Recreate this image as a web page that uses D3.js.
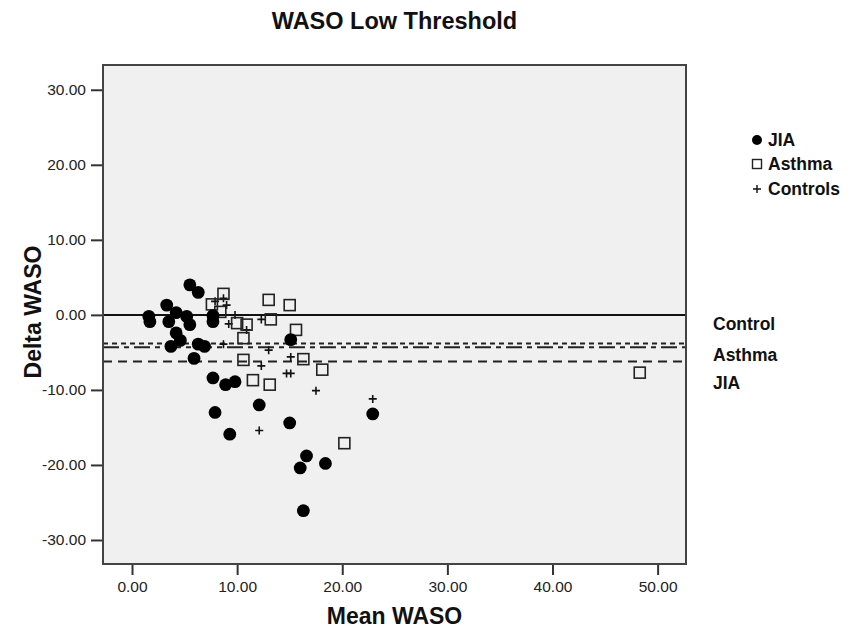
<!DOCTYPE html>
<html>
<head>
<meta charset="utf-8">
<script src="https://cdn.jsdelivr.net/npm/d3@7"></script>
<style>
  body { margin: 0; background: #fff; }
  svg { display: block; font-family: Arial, "Liberation Sans", sans-serif; }
</style>
</head>
<body>
<div id="chart"></div>
<script>
// data: [mean WASO, delta WASO]
const jia = [
  [5.5, 4.0], [6.3, 3.0], [3.3, 1.3], [1.6, -0.2], [1.7, -0.9], [4.2, 0.3],
  [3.5, -0.9], [5.2, -0.2], [5.5, -1.3], [7.7, -0.1], [7.7, -0.9], [4.2, -2.4],
  [4.6, -3.4], [3.7, -4.2], [6.3, -3.9], [6.9, -4.2], [5.9, -5.8], [15.1, -3.3],
  [7.7, -8.4], [8.9, -9.3], [9.8, -8.9], [12.1, -12.0], [7.9, -13.0], [9.3, -15.9],
  [15.0, -14.4], [22.9, -13.2], [16.6, -18.8], [16.0, -20.4], [18.4, -19.8], [16.3, -26.1]
];
const asthma = [
  [8.7, 2.8], [7.6, 1.4], [8.4, 0.4], [13.0, 2.0], [15.0, 1.3], [13.2, -0.6],
  [10.0, -1.1], [10.9, -1.3], [10.6, -3.1], [15.6, -2.0], [10.6, -6.0], [16.3, -5.9],
  [18.1, -7.3], [11.5, -8.7], [13.1, -9.3], [20.2, -17.1], [48.3, -7.7]
];
const controls = [
  [7.9, 1.8], [8.7, 2.2], [9.0, 1.3], [9.8, 0.0], [9.2, -1.2], [10.9, -2.0],
  [12.3, -0.6], [8.7, -3.9], [13.0, -4.7], [15.1, -5.6], [12.3, -6.8], [14.7, -7.8],
  [15.1, -7.8], [17.5, -10.1], [22.9, -11.2], [12.1, -15.4]
];
// mean difference lines per group
const refNames = ["Control", "Asthma", "JIA"];
const refValues = [-3.8, -4.3, -6.2];
const refDash = ["5,4", "16,5,5,5", "9,6"];

const xTicks = [0, 10, 20, 30, 40, 50];
const yTicks = [30, 20, 10, 0, -10, -20, -30];
const legendNames = ["JIA", "Asthma", "Controls"];

const w = 849, h = 632;
const plot = { left: 103, right: 686, top: 65, bottom: 564 };

const svg = d3.select("#chart").append("svg")
  .attr("width", w)
  .attr("height", h);

svg.append("rect").attr("width", w).attr("height", h).attr("fill", "#fff");

const x = d3.scaleLinear().domain([-2.76, 52.7]).range([plot.left, plot.right]);
const y = d3.scaleLinear().domain([-33.2, 33.3]).range([plot.bottom, plot.top]);

svg.append("rect")
  .attr("x", plot.left)
  .attr("y", plot.top)
  .attr("width", plot.right - plot.left)
  .attr("height", plot.bottom - plot.top)
  .attr("fill", "#f0f0f0");

// axes, plain hyphen for negatives like the original
const fmt = v => d3.format(".2f")(v).replace("\u2212", "-");
const xAxis = svg.append("g")
  .attr("transform", `translate(0,${plot.bottom})`)
  .call(d3.axisBottom(x).tickValues(xTicks).tickFormat(fmt).tickSize(11).tickSizeOuter(0).tickPadding(6));
const yAxis = svg.append("g")
  .attr("transform", `translate(${plot.left},0)`)
  .call(d3.axisLeft(y).tickValues(yTicks).tickFormat(fmt).tickSize(12).tickSizeOuter(0).tickPadding(5));

[xAxis, yAxis].forEach(g => {
  g.select(".domain").remove();
  g.selectAll(".tick line").attr("stroke", "#333").attr("stroke-width", 2);
  g.selectAll(".tick text")
    .attr("fill", "#222")
    .style("font-size", "15.5px")
    .style("font-family", "Arial, 'Liberation Sans', sans-serif");
});

// zero line and group mean lines
svg.append("line")
  .attr("x1", plot.left).attr("x2", plot.right)
  .attr("y1", y(0)).attr("y2", y(0))
  .attr("stroke", "#111").attr("stroke-width", 2);

svg.selectAll(".ref")
  .data(refValues)
  .enter()
  .append("line")
  .attr("class", "ref")
  .attr("x1", plot.left).attr("x2", plot.right)
  .attr("y1", d => y(d)).attr("y2", d => y(d))
  .attr("stroke", "#222")
  .attr("stroke-width", 2)
  .attr("stroke-dasharray", (d, i) => refDash[i]);

// points
svg.selectAll(".ctl")
  .data(controls)
  .enter()
  .append("path")
  .attr("class", "ctl")
  .attr("d", d => `M${x(d[0]) - 4},${y(d[1])}h8M${x(d[0])},${y(d[1]) - 4}v8`)
  .attr("stroke", "#111")
  .attr("stroke-width", 1.6)
  .attr("fill", "none");

svg.selectAll(".ast")
  .data(asthma)
  .enter()
  .append("rect")
  .attr("class", "ast")
  .attr("x", d => x(d[0]) - 5.5)
  .attr("y", d => y(d[1]) - 5.5)
  .attr("width", 11)
  .attr("height", 11)
  .attr("fill", "none")
  .attr("stroke", "#222")
  .attr("stroke-width", 1.6);

svg.selectAll(".jia")
  .data(jia)
  .enter()
  .append("circle")
  .attr("class", "jia")
  .attr("cx", d => x(d[0]))
  .attr("cy", d => y(d[1]))
  .attr("r", 6.4)
  .attr("fill", "#000");

// frame
svg.append("rect")
  .attr("x", plot.left)
  .attr("y", plot.top)
  .attr("width", plot.right - plot.left)
  .attr("height", plot.bottom - plot.top)
  .attr("fill", "none")
  .attr("stroke", "#444")
  .attr("stroke-width", 2);

// line labels on the right
svg.selectAll(".reflabel")
  .data(refNames)
  .enter()
  .append("text")
  .attr("class", "reflabel")
  .attr("x", 713)
  .attr("y", (d, i) => [330, 361, 389][i])
  .text(d => d)
  .style("font-size", "17.5px")
  .style("font-weight", "bold")
  .attr("fill", "#111");

// legend
const legend = svg.append("g").attr("transform", "translate(757,0)");
const rowY = [140, 164, 189];
legend.append("circle").attr("cx", 0).attr("cy", rowY[0]).attr("r", 5).attr("fill", "#000");
legend.append("rect").attr("x", -4.5).attr("y", rowY[1] - 4.5).attr("width", 9).attr("height", 9)
  .attr("fill", "none").attr("stroke", "#222").attr("stroke-width", 1.4);
legend.append("path").attr("d", `M-4,${rowY[2]}h8M0,${rowY[2] - 4}v8`)
  .attr("stroke", "#111").attr("stroke-width", 1.4);
legend.selectAll("text")
  .data(legendNames)
  .enter()
  .append("text")
  .attr("x", 11)
  .attr("y", (d, i) => rowY[i] + 6)
  .text(d => d)
  .style("font-size", "17.5px")
  .style("font-weight", "bold")
  .attr("fill", "#111");

// titles
svg.append("text")
  .attr("x", (plot.left + plot.right) / 2)
  .attr("y", 29)
  .attr("text-anchor", "middle")
  .text("WASO Low Threshold")
  .style("font-size", "23.5px")
  .style("font-weight", "bold")
  .attr("fill", "#111");

svg.append("text")
  .attr("x", (plot.left + plot.right) / 2)
  .attr("y", 624)
  .attr("text-anchor", "middle")
  .text("Mean WASO")
  .style("font-size", "23px")
  .style("font-weight", "bold")
  .attr("fill", "#111");

svg.append("text")
  .attr("transform", "rotate(-90)")
  .attr("x", -312)
  .attr("y", 41)
  .attr("text-anchor", "middle")
  .text("Delta WASO")
  .style("font-size", "23px")
  .style("font-weight", "bold")
  .attr("fill", "#111");
</script>
</body>
</html>
